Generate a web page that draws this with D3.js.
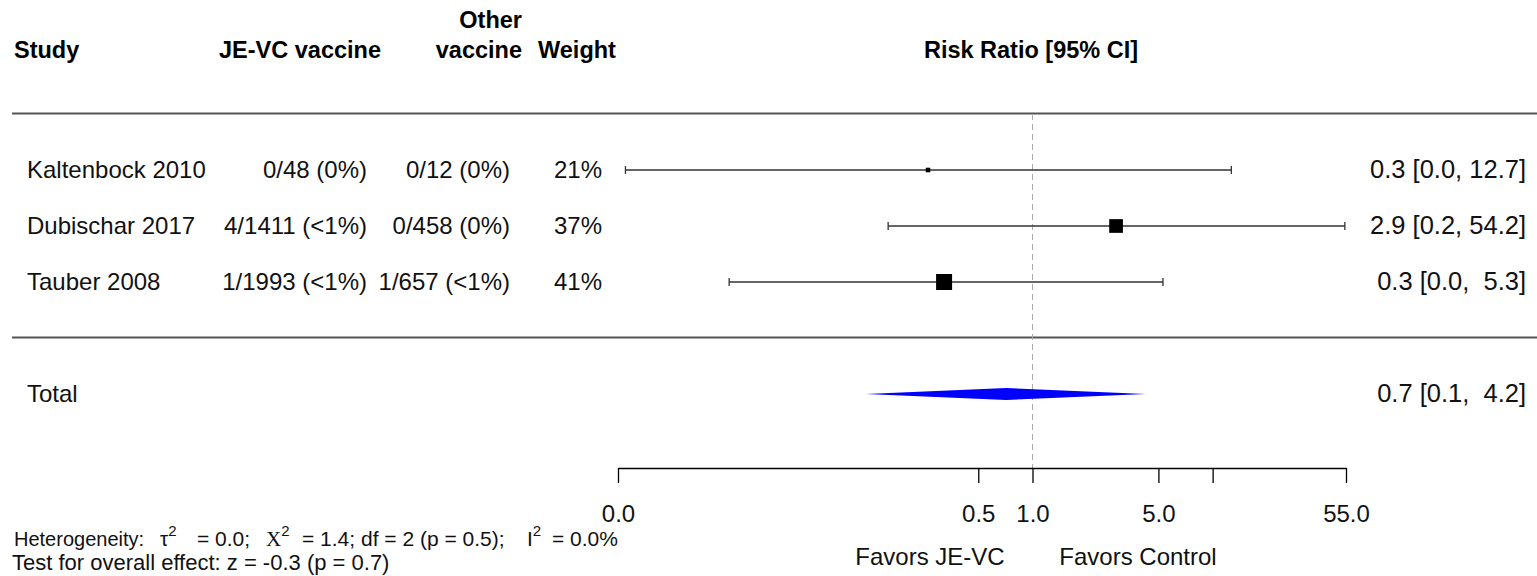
<!DOCTYPE html>
<html>
<head>
<meta charset="utf-8">
<script src="https://cdn.jsdelivr.net/npm/d3@7"></script>
<style>
  body { margin: 0; background: #fff; }
  svg { font-family: "Liberation Sans", Arial, sans-serif; }
  text { white-space: pre; }
</style>
</head>
<body>
<svg id="chart" width="1537" height="576"></svg>
<script>
"use strict";

// données de la méta-analyse
var studies = ["Kaltenbock 2010", "Dubischar 2017", "Tauber 2008"];
var jevc = ["0/48 (0%)", "4/1411 (<1%)", "1/1993 (<1%)"];
var other = ["0/12 (0%)", "0/458 (0%)", "1/657 (<1%)"];
var weights = [21, 37, 41];
var rr = [0.263, 2.91, 0.323];
var lower = [0.0055, 0.158, 0.0207];
var upper = [12.7, 54.2, 5.3];
var rrLabels = ["0.3 [0.0, 12.7]", "2.9 [0.2, 54.2]", "0.3 [0.0,  5.3]"];

var total = { est: 0.715, lo: 0.119, hi: 4.25, label: "0.7 [0.1,  4.2]" };

var tickValues = [0.005, 0.5, 1, 5, 10, 55];
var tickLabels = ["0.0", "0.5", "1.0", "5.0", "", "55.0"];

var svg = d3.select("#chart");

var x = d3.scaleLog().domain([0.005, 55]).range([618, 1346]);
var y = d3.scaleLinear().domain([0, 1]).range([170, 226]);
var box = d3.scaleLinear().domain([20, 41]).range([4, 16]);

var axisY = 468;

// en-têtes
var head = svg.append("g").attr("font-weight", "bold").attr("font-size", 23.5).attr("fill", "#000");
head.append("text").attr("x", 14).attr("y", 58).text("Study");
head.append("text").attr("x", 381).attr("y", 58).attr("text-anchor", "end").text("JE-VC vaccine");
head.append("text").attr("x", 522).attr("y", 28).attr("text-anchor", "end").text("Other");
head.append("text").attr("x", 522).attr("y", 58).attr("text-anchor", "end").text("vaccine");
head.append("text").attr("x", 577).attr("y", 58).attr("text-anchor", "middle").text("Weight");
head.append("text").attr("x", 1031).attr("y", 58).attr("text-anchor", "middle").text("Risk Ratio [95% CI]");

// lignes horizontales
svg.selectAll("line.sep")
  .data([-1, 3])
  .enter()
  .append("line")
  .attr("class", "sep")
  .attr("x1", 12).attr("x2", 1537)
  .attr("y1", function (d) { return y(d) - 0.5; })
  .attr("y2", function (d) { return y(d) - 0.5; })
  .attr("stroke", "#555").attr("stroke-width", 2);

// ligne de référence
svg.append("line")
  .attr("x1", x(1)).attr("x2", x(1))
  .attr("y1", y(-1)).attr("y2", axisY)
  .attr("stroke", "#aaa").attr("stroke-dasharray", "6,4");

// colonnes de texte
var rows = svg.append("g").attr("font-size", 24).attr("fill", "#111");
rows.selectAll("text.study").data(studies).enter().append("text")
  .attr("x", 27).attr("y", function (d, i) { return y(i) + 8; }).text(function (d) { return d; });
rows.selectAll("text.jevc").data(jevc).enter().append("text")
  .attr("x", 367).attr("text-anchor", "end")
  .attr("y", function (d, i) { return y(i) + 8; }).text(function (d) { return d; });
rows.selectAll("text.other").data(other).enter().append("text")
  .attr("x", 510).attr("text-anchor", "end")
  .attr("y", function (d, i) { return y(i) + 8; }).text(function (d) { return d; });
rows.selectAll("text.weight").data(weights).enter().append("text")
  .attr("x", 602).attr("text-anchor", "end")
  .attr("y", function (d, i) { return y(i) + 8; }).text(function (d) { return d + "%"; });
rows.selectAll("text.rr").data(rrLabels).enter().append("text")
  .attr("x", 1526).attr("text-anchor", "end").attr("font-size", 25.5)
  .attr("y", function (d, i) { return y(i) + 8; }).text(function (d) { return d; });

// intervalles de confiance
var ci = svg.append("g").attr("stroke", "#333").attr("stroke-width", 1.3);
studies.forEach(function (s, i) {
  var yy = y(i);
  ci.append("line").attr("x1", x(lower[i])).attr("x2", x(upper[i])).attr("y1", yy).attr("y2", yy);
  ci.append("line").attr("x1", x(lower[i])).attr("x2", x(lower[i])).attr("y1", yy - 4).attr("y2", yy + 4);
  ci.append("line").attr("x1", x(upper[i])).attr("x2", x(upper[i])).attr("y1", yy - 4).attr("y2", yy + 4);
});

svg.selectAll("rect.box")
  .data(rr)
  .enter()
  .append("rect")
  .attr("class", "box")
  .attr("x", function (d, i) { return x(d) - box(weights[i]) / 2; })
  .attr("y", function (d, i) { return y(i) - box(weights[i]) / 2; })
  .attr("width", function (d, i) { return box(weights[i]); })
  .attr("height", function (d, i) { return box(weights[i]); })
  .attr("fill", "#000");

// total
var yt = y(4);
rows.append("text").attr("x", 27).attr("y", yt + 8).text("Total");
rows.append("text").attr("x", 1526).attr("y", yt + 8).attr("text-anchor", "end")
  .attr("font-size", 25.5).text(total.label);
svg.append("path")
  .attr("d", "M" + x(total.lo) + "," + yt + "L" + x(total.est) + "," + (yt - 6) +
    "L" + x(total.hi) + "," + yt + "L" + x(total.est) + "," + (yt + 6) + "Z")
  .attr("fill", "#0000ff");

// axe
var axis = d3.axisBottom(x)
  .tickValues(tickValues)
  .tickFormat(function (d, i) { return tickLabels[i]; })
  .tickSize(15)
  .tickSizeOuter(0)
  .tickPadding(22);
var ax = svg.append("g").attr("transform", "translate(0," + axisY + ")").call(axis);
ax.select(".domain").attr("stroke", "#000").attr("stroke-width", 1.3);
ax.selectAll(".tick line").attr("stroke", "#000").attr("stroke-width", 1.3);
ax.selectAll(".tick text").attr("font-size", 24).attr("fill", "#111")
  .attr("font-family", "Liberation Sans, Arial, sans-serif");

svg.append("text").attr("x", 930).attr("y", 565).attr("text-anchor", "middle")
  .attr("font-size", 24).attr("fill", "#111").text("Favors JE-VC");
svg.append("text").attr("x", 1138).attr("y", 565).attr("text-anchor", "middle")
  .attr("font-size", 24).attr("fill", "#111").text("Favors Control");

// statistiques
var het = svg.append("text").attr("y", 546).attr("font-size", 21).attr("fill", "#111");
het.append("tspan").attr("x", 14).attr("font-size", 20).text("Heterogeneity:");
het.append("tspan").attr("x", 160).text("\u03c4");
het.append("tspan").attr("dy", -10).attr("font-size", 15).text("2");
het.append("tspan").attr("x", 197).attr("dy", 10).text("= 0.0;");
het.append("tspan").attr("x", 266).attr("font-family", "Liberation Serif, serif").text("X");
het.append("tspan").attr("dy", -10).attr("font-size", 15).text("2");
het.append("tspan").attr("x", 302).attr("dy", 10).text("= 1.4; df = 2 (p = 0.5);");
het.append("tspan").attr("x", 527).text("I");
het.append("tspan").attr("dy", -10).attr("font-size", 15).text("2");
het.append("tspan").attr("x", 552).attr("dy", 10).text("= 0.0%");

svg.append("text").attr("x", 12).attr("y", 570).attr("font-size", 22).attr("fill", "#111")
  .text("Test for overall effect: z = -0.3 (p = 0.7)");
</script>
</body>
</html>
